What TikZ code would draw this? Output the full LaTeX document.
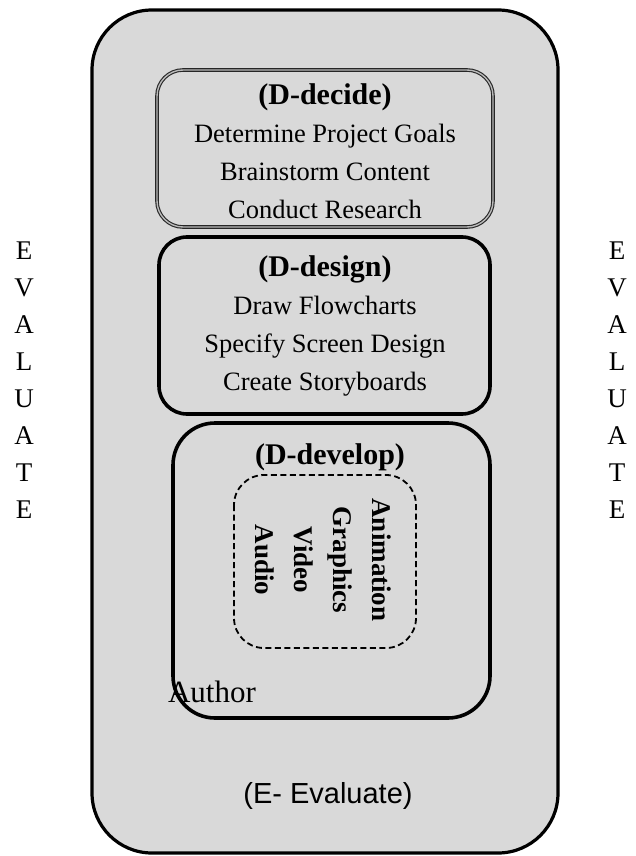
\documentclass[tikz,border=0pt]{standalone}
\usepackage{fontspec}
\setmainfont{Liberation Serif}
\newfontfamily\arialfont{Liberation Sans}
\usetikzlibrary{positioning}

\definecolor{panelgray}{HTML}{D9D9D9}
\newcommand\hdfont{\bfseries\fontsize{30}{38}\selectfont}

\begin{document}
\begin{tikzpicture}[
  x=1pt,y=-1pt,
  thick box/.style={line width=3.6pt},
  txt/.style ={align=center,inner sep=0pt,font=\fontsize{26.5}{38}\selectfont},
  hd/.style  ={font=\hdfont},
  side/.style={align=center,inner sep=0pt,font=\fontsize{27}{37}\selectfont}
]
\useasboundingbox (0,0) rectangle (636,856);

% ======== outer panel
\draw[fill=panelgray,line width=3.2pt,rounded corners=60pt] (92,10) rectangle (558,853);

% ======== D-decide (embossed edge)
\draw[draw=black!85,double=gray!55,double distance=1.4pt,line width=1.1pt,rounded corners=26pt]
  (157,70) rectangle (493,227);
\node[txt] (decide) at (325,151)
  {{\hdfont (D-decide)}\\Determine Project Goals\\Brainstorm Content\\Conduct Research};

% ======== D-design
\draw[thick box,rounded corners=28pt] (159,237) rectangle (490,414);
\node[txt] (design) at (325,326)
  {{\hdfont (D-design)}\\Draw Flowcharts\\Specify Screen Design\\Create Storyboards};

% ======== D-develop
\draw[thick box,rounded corners=42pt] (173,423) rectangle (490,718);
\node[hd,inner sep=0pt] (develop) at (330,457) {(D-develop)};
\draw[dashed,line width=1.8pt,dash pattern=on 6pt off 3.5pt,rounded corners=30pt]
  (234,475) rectangle (416,648);
\node[align=center,inner sep=0pt,rotate=-90,font=\bfseries\fontsize{27}{39}\selectfont]
  (media) at (323,560) {Animation\\Graphics\\Video\\Audio};
\node[inner sep=0pt,font=\fontsize{31}{34}\selectfont] (author) at (212,692) {Author};

% ======== E-Evaluate
\node[inner sep=0pt,font=\arialfont\fontsize{29}{34}\selectfont] (evaluate) at (328,796) {(E- Evaluate)};

% ======== side labels
\node[side] (evl) at (24,380) {E\\V\\A\\L\\U\\A\\T\\E};
\node[side] (evr) at (617,380) {E\\V\\A\\L\\U\\A\\T\\E};
\end{tikzpicture}
\end{document}
